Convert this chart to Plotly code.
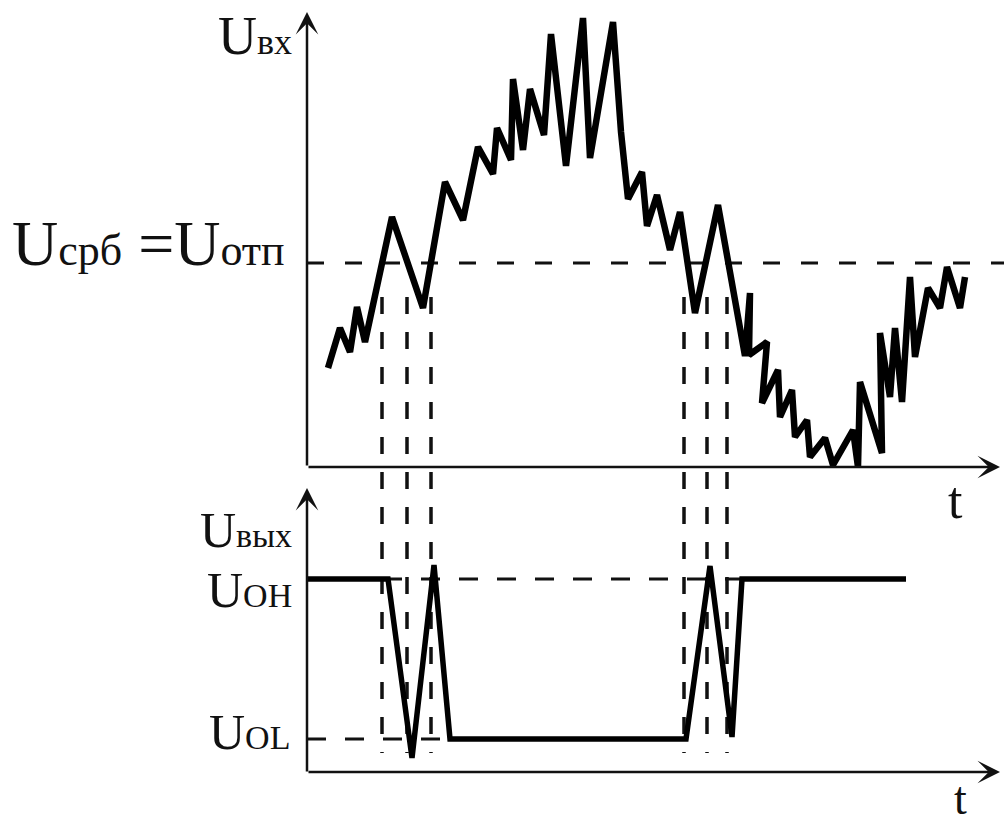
import plotly.graph_objects as go

# ---------------- data (time units ~ px from axis origin; voltage units arbitrary) -------------
t_in = [21, 33, 43, 50, 58, 85, 116, 138, 156, 171, 186, 190, 204, 206, 216, 223, 237, 244,
        259, 276, 283, 306, 314, 321, 335, 340, 350, 363, 373, 388, 411, 438, 443, 442, 460,
        455, 471, 473, 485, 488, 500, 503, 518, 526, 546, 551, 553, 575, 573, 583, 588, 595,
        603, 608, 621, 633, 640, 653, 658]
u_in = [99, 139, 115, 160, 125, 250, 159, 285, 247, 320, 293, 339, 307, 388, 317, 378, 332, 433,
        301, 449, 309, 445, 335, 268, 295, 241, 272, 217, 255, 154, 262, 111, 174, 112, 125,
        64, 97, 50, 77, 30, 47, 10, 29, 2, 37, 0, 85, 14, 134, 70, 139, 65,
        190, 110, 179, 159, 200, 159, 190]
u_threshold = 204

t_cross = [75, 100, 124, 377, 400, 420]
u_cross_top = 170
u_cross_bottom = -286

t_out = [0, 81, 105, 127, 143, 379, 403, 425, 435, 599]
u_out = [193, 193, 14, 207, 33, 33, 206, 35, 193, 193]
u_oh = 193
u_ol = 33

t_axis_end = 693
u_in_axis_end = 455
u_out_axis_end = 284

W, H = 1004, 826
X0 = 307      # pixel of time origin
Y0_TOP = 467  # pixel of input zero
Y0_BOT = 772  # pixel of output zero

FONT = "Liberation Serif"
INK = "#111111"

fig = go.Figure()

# threshold dashed line
fig.add_trace(go.Scatter(x=[0, W - X0], y=[u_threshold, u_threshold], mode="lines",
                         line=dict(color=INK, width=3, dash="17px,21px"), yaxis="y",
                         hoverinfo="skip"))
# vertical projection lines
for tc in t_cross:
    fig.add_trace(go.Scatter(x=[tc, tc], y=[u_cross_top, u_cross_bottom], mode="lines",
                             line=dict(color=INK, width=3.5, dash="17px,18px"), yaxis="y",
                             hoverinfo="skip"))
# output level dashed lines
fig.add_trace(go.Scatter(x=[0, t_out[8]], y=[u_oh, u_oh], mode="lines",
                         line=dict(color=INK, width=3, dash="19px,19px"), yaxis="y2",
                         hoverinfo="skip"))
fig.add_trace(go.Scatter(x=[0, t_out[4]], y=[u_ol, u_ol], mode="lines",
                         line=dict(color=INK, width=3, dash="19px,19px"), yaxis="y2",
                         hoverinfo="skip"))

# input signal
fig.add_trace(go.Scatter(x=t_in, y=u_in, mode="lines",
                         line=dict(color="#000000", width=6.5), yaxis="y",
                         hoverinfo="skip"))
# output signal
fig.add_trace(go.Scatter(x=t_out, y=u_out, mode="lines",
                         line=dict(color="#000000", width=5.5), yaxis="y2",
                         hoverinfo="skip"))

annotations = []

def axis_arrow(x, y, ax, ay, yref):
    annotations.append(dict(x=x, y=y, ax=ax, ay=ay, xref="x", yref=yref, axref="x",
                            ayref=yref, text="", showarrow=True, arrowhead=3,
                            arrowsize=1.5, arrowwidth=2.5, arrowcolor=INK))

axis_arrow(0, u_in_axis_end, 0, 0, "y")
axis_arrow(t_axis_end, 0, 0, 0, "y")
axis_arrow(0, u_out_axis_end, 0, -1, "y2")
axis_arrow(t_axis_end, 0, 0, 0, "y2")


def label(text, xr, yc, size, anchor="right", yanchor="middle"):
    annotations.append(dict(x=xr / W, y=1 - yc / H, xref="paper", yref="paper", text=text,
                            showarrow=False, xanchor=anchor, yanchor=yanchor,
                            font=dict(family=FONT, size=size, color=INK)))

sub = "<span style='font-size:{}px'>{}</span>"
label("U" + sub.format(36, "вх"), 294, 36, 54)
label("U" + sub.format(44, "срб") + " =U" + sub.format(44, "отп"), 287, 244, 64)
label("U" + sub.format(34, "вых"), 294, 530, 50)
label("U" + sub.format(34, "OH"), 294, 590, 50)
label("U" + sub.format(34, "OL"), 292, 732, 50)
label("t", 955, 500, 52, anchor="center")
label("t", 960, 826, 46, anchor="center", yanchor="bottom")

fig.update_layout(
    width=W, height=H,
    margin=dict(l=0, r=0, t=0, b=0),
    paper_bgcolor="white", plot_bgcolor="white",
    showlegend=False,
    xaxis=dict(range=[-X0, W - X0], visible=False, domain=[0, 1]),
    yaxis=dict(range=[Y0_TOP - H, Y0_TOP], visible=False, domain=[0, 1]),
    yaxis2=dict(range=[Y0_BOT - H, Y0_BOT], visible=False, overlaying="y"),
    annotations=annotations,
)

fig.write_html("out.html", config={"displayModeBar": False},
               post_script="document.body.style.margin='0';document.body.style.overflow='hidden';")
